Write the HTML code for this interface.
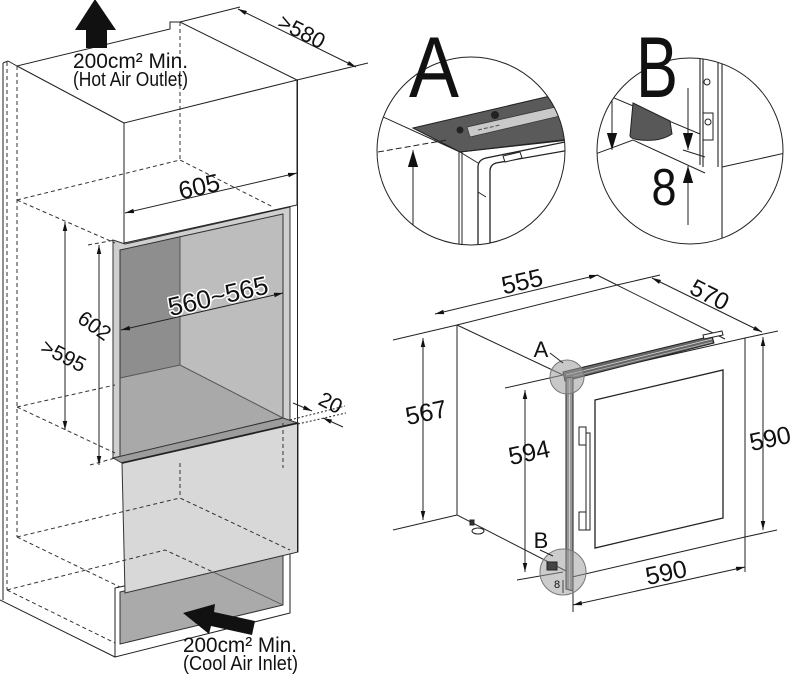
<!DOCTYPE html>
<html><head><meta charset="utf-8"><style>
html,body{margin:0;padding:0;background:#fff;}
svg{display:block;}
text{font-family:"Liberation Sans",Arial,sans-serif;fill:#111;}
</style></head><body>
<svg width="795" height="680" viewBox="0 0 795 680" xmlns="http://www.w3.org/2000/svg">
<defs>
<marker id="a" viewBox="0 0 10 10" refX="10" refY="5" markerWidth="9" markerHeight="9" markerUnits="userSpaceOnUse" orient="auto-start-reverse"><path d="M0,2.5L10,5L0,7.5z" fill="#111"/></marker>
<marker id="b" viewBox="0 0 10 10" refX="10" refY="5" markerWidth="17" markerHeight="17" markerUnits="userSpaceOnUse" orient="auto-start-reverse"><path d="M0,2L10,5L0,8z" fill="#111"/></marker>
<clipPath id="cA"><circle cx="471" cy="151" r="94"/></clipPath>
<clipPath id="cB"><circle cx="690" cy="151" r="93"/></clipPath>
</defs>

<!-- ============ LEFT CABINET ============ -->
<g stroke="#222" stroke-width="1" fill="none">
  <polygon points="113,240 125,244 290,207 290,420 113,458" fill="#cfcfcf" stroke="#333"/>
  <polygon points="120,250 180,237 180,365 120,378" fill="#8e8e8e" stroke="none"/>
  <polygon points="180,237 283,214 283,418 180,365" fill="#bdbdbd" stroke="none"/>
  <polygon points="120,378 180,365 283,418 120,457" fill="#a9a9a9" stroke="none"/>
  <polygon points="120,250 283,214 283,418 120,457" stroke="#333"/>
  <path d="M180,237V365M120,378L180,365L283,418" stroke="#555"/>
  <polygon points="113,458 283,418 298,423 122,463" fill="#9c9c9c" stroke="#333"/>
  <polygon points="115,588 115,657 290,613 290,550" fill="#fff"/>
  <polygon points="120,592 283,553 283,605 120,644" fill="#aaaaaa" stroke="#333"/>
  <path d="M213,572L283,605" stroke="#555" stroke-width="0.8"/>
  <polygon points="122,463 298,423 298,552 125,593" fill="#d8d8d8" stroke="#333"/>
  <path d="M122,463L298,423" stroke-width="1.8"/>
  <polygon points="124,123 297,80 297,205 124,243" fill="#fff"/>
  <path d="M3,63L8,61L17,66L170,29L170,22L180,22L297,80"/>
  <path d="M17,66L124,123"/>
  <path d="M3,63V600"/>
  <path d="M0,600L115,657"/>
  <path d="M297.5,80V552"/>
  <g stroke-dasharray="4,3" stroke="#333">
    <path d="M7,62V590"/>
    <path d="M17,66V537"/>
    <path d="M180,22V160"/>
    <path d="M17,200L180,160L273,207"/>
    <path d="M17,200L115,243"/>
    <path d="M88,245L115,240"/>
    <path d="M17,407L115,385"/>
    <path d="M17,407L115,453"/>
    <path d="M90,465L115,458"/>
    <path d="M17,537L180,498L290,550"/>
    <path d="M17,537L120,587"/>
    <path d="M180,463V498"/>
    <path d="M283,423V468"/>
    <path d="M7,590L165,550L213,572"/>
    <path d="M7,590L115,643"/>
  </g>
  <path d="M180,22L240,7M297,80L368,63"/>
  <path d="M238,9L356,67" marker-start="url(#a)" marker-end="url(#a)"/>
  <path d="M125,213L297,173" marker-start="url(#a)" marker-end="url(#a)"/>
  <path d="M121,330L283,293" marker-start="url(#a)" marker-end="url(#a)"/>
  <path d="M65,222V430" marker-start="url(#a)" marker-end="url(#a)"/>
  <path d="M99,245V465" marker-start="url(#a)" marker-end="url(#a)"/>
  <path d="M293,403L312,411" marker-end="url(#a)"/>
  <path d="M343,427L323,418" marker-end="url(#a)"/>
  <path d="M290,420L345,406M298,424L346,413" stroke-dasharray="2,2"/>
</g>

<polygon points="95,-1 116,30 107,30 107,48 86,48 86,30 75,30" fill="#111"/>
<polygon points="183,613 209,634 211,626 252,635 255,621 214,612 215,604" fill="#111"/>

<text x="73" y="68" font-size="21" textLength="115" lengthAdjust="spacingAndGlyphs">200cm² Min.</text>
<text x="73" y="86" font-size="20" textLength="115" lengthAdjust="spacingAndGlyphs">(Hot Air Outlet)</text>
<text x="183" y="652" font-size="21" textLength="114" lengthAdjust="spacingAndGlyphs">200cm² Min.</text>
<text x="183" y="670" font-size="20" textLength="115" lengthAdjust="spacingAndGlyphs">(Cool Air Inlet)</text>

<text transform="translate(302,31) rotate(27)" y="8" text-anchor="middle" font-size="22">&gt;580</text>
<text transform="translate(199,186) rotate(-13)" y="9" text-anchor="middle" font-size="25">605</text>
<text transform="translate(218,296) rotate(-13)" y="9" text-anchor="middle" font-size="26" stroke="#fff" stroke-width="3" paint-order="stroke" stroke-linejoin="round">560~565</text>
<text transform="translate(64,355) rotate(27)" y="8" text-anchor="middle" font-size="21">&gt;595</text>
<text transform="translate(95,325) rotate(35)" y="8" text-anchor="middle" font-size="21">602</text>
<text transform="translate(331,402) rotate(27)" y="8" text-anchor="middle" font-size="21">20</text>

<!-- ============ CIRCLE A ============ -->
<g clip-path="url(#cA)" stroke="#222" stroke-width="1" fill="none">
  <path d="M370,111L460,152"/>
  <polygon points="413,128 550,96 570,108 570,139 460,152" fill="#5a5a5a"/>
  <polygon points="467,127 560,106 560,116 470,137" fill="#c9c9c9" stroke="#333" stroke-width="0.7"/>
  <path d="M478,130L500,125" stroke="#555" stroke-dasharray="4,2"/>
  <circle cx="495" cy="115" r="3.5" fill="#222"/>
  <circle cx="460" cy="130" r="3" fill="#222"/>
  <path d="M460,152L570,140"/>
  <path d="M460,152L478,163"/>
  <path d="M478,250V167Q478,160 486,158L570,141" stroke-width="1.3"/>
  <path d="M490,250V171Q490,165 496,163L570,150" stroke-width="1.3"/>
  <path d="M503,156L520,152L522,158L505,162z" fill="#fff"/>
  <path d="M478,192L486,197"/>
  <path d="M459,152V250M462,152V250"/>
  <path d="M378,152L447,140" stroke-dasharray="6,3"/>
  <path d="M413,225V150" marker-end="url(#b)"/>
</g>
<circle cx="471" cy="151" r="94" fill="none" stroke="#222" stroke-width="1"/>
<text x="434" y="97" text-anchor="middle" font-size="86" textLength="50" lengthAdjust="spacingAndGlyphs">A</text>

<!-- ============ CIRCLE B ============ -->
<g clip-path="url(#cB)" stroke="#222" stroke-width="1" fill="none">
  <path d="M595,90L700,134"/>
  <path d="M590,156L633,140L705,173"/>
  <path d="M633,103L670,121L672,134Q660,142 640,140Q631,139 630,136Z" fill="#585858"/>
  <path d="M612,97V150" marker-end="url(#b)"/>
  <path d="M688,88V150" marker-end="url(#b)"/>
  <path d="M683,150L705,157"/>
  <path d="M688,225V166" marker-end="url(#b)"/>
  <path d="M700,50V165M703,50V167M718,50V167M722,50V250" stroke-width="1.1"/>
  <path d="M722,167L790,152"/>
  <circle cx="707" cy="82" r="3"/>
  <rect x="703" y="113" width="10" height="27"/>
  <circle cx="708" cy="122" r="3"/>
</g>
<circle cx="690" cy="151" r="93" fill="none" stroke="#222" stroke-width="1"/>
<text x="657" y="97" text-anchor="middle" font-size="86" textLength="42" lengthAdjust="spacingAndGlyphs">B</text>
<text x="664" y="205" text-anchor="middle" font-size="52" textLength="25" lengthAdjust="spacingAndGlyphs">8</text>

<!-- ============ APPLIANCE ============ -->
<g stroke="#222" stroke-width="1" fill="none">
  <path d="M457,325V515L568,572"/>
  <path d="M457,325L563,375"/>
  <path d="M457,325L617,285L725,339"/>
  <path d="M573,377L745,338V537L572,577"/>
  <polygon points="563,372 712,336 714,343 565,381" fill="#666"/>
  <path d="M566,375L712,339" stroke="#ddd" stroke-width="0.7"/>
  <path d="M566,378L712,342" stroke="#bbb" stroke-width="0.7"/>
  <polygon points="703,335 722,331 723,335 704,339" fill="#fff"/>
  <polygon points="566,378 573,377 573,591 566,589" fill="#9a9a9a"/>
  <path d="M569.5,380V589" stroke="#ddd" stroke-width="0.8"/>
  <polygon points="595,400 723,370 723,518 595,548" stroke-width="1.3"/>
  <rect x="579" y="427" width="7" height="18" fill="#fff"/>
  <rect x="579" y="512" width="7" height="18" fill="#fff"/>
  <rect x="586" y="433" width="4" height="97" fill="#fff"/>
  <ellipse cx="478" cy="531" rx="6" ry="3" fill="#fff"/>
  <path d="M470,520h4v5h-4z" fill="#333"/>
  <path d="M435,314L598,275" marker-start="url(#a)" marker-end="url(#a)"/>
  <path d="M597,275L617,285M617,285L660,275"/>
  <path d="M652,278L762,332" marker-start="url(#a)" marker-end="url(#a)"/>
  <path d="M393,340L457,325M393,530L457,515"/>
  <path d="M423,338V520" marker-start="url(#a)" marker-end="url(#a)"/>
  <path d="M505,388L563,375M517,580L563,572"/>
  <path d="M525,390V572" marker-start="url(#a)" marker-end="url(#a)"/>
  <path d="M745,338L778,331M745,537L777,530"/>
  <path d="M763,337V530" marker-start="url(#a)" marker-end="url(#a)"/>
  <path d="M573,578V612M745,537V572"/>
  <path d="M573,605L745,567" marker-start="url(#a)" marker-end="url(#a)"/>
  <circle cx="567" cy="377" r="17" fill="#9a9a9a" fill-opacity="0.55" stroke="#777"/>
  <circle cx="563" cy="572" r="23" fill="#9a9a9a" fill-opacity="0.5" stroke="#777"/>
  <path d="M547,562h10v8h-10z" fill="#444"/>
  <path d="M550,353L563,363M540,550L553,556"/>
  <path d="M563,593V580" stroke-width="0.8"/>
</g>
<text x="541" y="357" text-anchor="middle" font-size="22">A</text>
<text x="541" y="548" text-anchor="middle" font-size="22">B</text>
<text x="557" y="588" text-anchor="middle" font-size="11">8</text>

<text transform="translate(522,281) rotate(-13)" y="9" text-anchor="middle" font-size="25">555</text>
<text transform="translate(710,294) rotate(27)" y="9" text-anchor="middle" font-size="24">570</text>
<text transform="translate(426,412) rotate(-12)" y="9" text-anchor="middle" font-size="25">567</text>
<text transform="translate(529,452) rotate(-12)" y="9" text-anchor="middle" font-size="25">594</text>
<text transform="translate(770,438) rotate(-12)" y="9" text-anchor="middle" font-size="25">590</text>
<text transform="translate(666,572) rotate(-12)" y="9" text-anchor="middle" font-size="25">590</text>
</svg>
</body></html>
